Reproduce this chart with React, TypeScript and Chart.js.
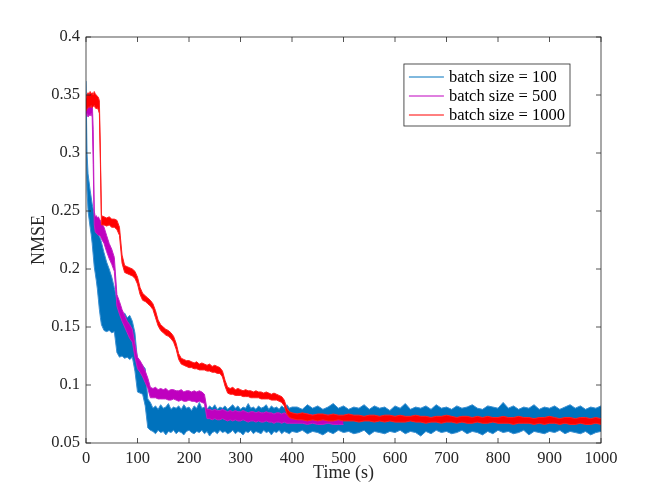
import React, { useEffect, useRef } from "react";
import { Chart, registerables } from "chart.js";
import type { ChartOptions, Plugin } from "chart.js";

Chart.register(...registerables);

// time grid (s), shared by every series
const timeS = [
  0, 2, 4, 6, 8, 10, 12, 14, 16, 18, 20, 22, 24, 26, 28, 30,
  35, 40, 45, 50, 55, 60, 65, 70, 75, 80, 85, 90, 95, 100, 105, 110, 115, 120, 125,
  130, 135, 140, 145, 150, 155, 160, 165, 170, 175, 180, 185, 190, 195, 200, 205, 210, 215, 220, 225,
  230, 235, 240, 245, 250, 255, 260, 265, 270, 275, 280, 285, 290, 295, 300, 305, 310, 315, 320, 325,
  330, 335, 340, 345, 350, 355, 360, 365, 370, 375, 380, 385, 390, 395, 400,
  410, 420, 430, 440, 450, 460, 470, 480, 490, 500, 510, 520, 530, 540, 550, 560, 570, 580, 590, 600,
  610, 620, 630, 640, 650, 660, 670, 680, 690, 700, 710, 720, 730, 740, 750, 760, 770, 780, 790, 800,
  810, 820, 830, 840, 850, 860, 870, 880, 890, 900, 910, 920, 930, 940, 950, 960, 970, 980, 990, 1000,
];

// batch size = 100 : upper / lower edge of the noisy band
const blueHi = [
  0.362, 0.300, 0.282, 0.275, 0.268, 0.262, 0.256, 0.252, 0.247, 0.242, 0.237, 0.232, 0.230, 0.228, 0.226, 0.223,
  0.214, 0.206, 0.200, 0.193, 0.184, 0.174, 0.164, 0.160, 0.162, 0.158, 0.160, 0.155, 0.145, 0.121, 0.119, 0.117, 0.114, 0.088, 0.085,
  0.080, 0.082, 0.079, 0.083, 0.080, 0.081, 0.084, 0.079, 0.081, 0.080,
  0.082, 0.079, 0.083, 0.080, 0.081, 0.078, 0.082, 0.080, 0.085, 0.080,
  0.081, 0.079, 0.082, 0.080, 0.083, 0.079, 0.081, 0.080, 0.082, 0.079,
  0.081, 0.083, 0.080, 0.082, 0.079, 0.081, 0.080, 0.084, 0.080, 0.081,
  0.079, 0.082, 0.080, 0.081, 0.083, 0.079, 0.082, 0.080, 0.081, 0.079,
  0.082, 0.080, 0.083, 0.080, 0.081,
  0.081, 0.079, 0.083, 0.080, 0.082, 0.079, 0.081, 0.084, 0.080, 0.082,
  0.079, 0.081, 0.080, 0.083, 0.079, 0.082, 0.080, 0.081, 0.078, 0.082,
  0.080, 0.084, 0.079, 0.081, 0.080, 0.082, 0.079, 0.083, 0.080, 0.081,
  0.079, 0.082, 0.080, 0.081, 0.083, 0.080, 0.079, 0.082, 0.081, 0.080,
  0.085, 0.080, 0.082, 0.079, 0.081, 0.080, 0.083, 0.079, 0.081, 0.080,
  0.082, 0.079, 0.081, 0.083, 0.080, 0.082, 0.079, 0.081, 0.080, 0.082,
];
const blueLo = [
  0.320, 0.268, 0.250, 0.243, 0.236, 0.230, 0.222, 0.212, 0.202, 0.196, 0.190, 0.183, 0.174, 0.165, 0.158, 0.152,
  0.147, 0.146, 0.147, 0.145, 0.146, 0.128, 0.124, 0.125, 0.123, 0.124, 0.122, 0.124, 0.112, 0.094, 0.093, 0.092, 0.082, 0.063, 0.061,
  0.060, 0.058, 0.061, 0.059, 0.060, 0.057, 0.060, 0.059, 0.061, 0.058,
  0.060, 0.059, 0.057, 0.060, 0.061, 0.059, 0.058, 0.060, 0.059, 0.061,
  0.058, 0.060, 0.056, 0.059, 0.060, 0.058, 0.061, 0.059, 0.060, 0.058,
  0.059, 0.061, 0.058, 0.060, 0.059, 0.057, 0.060, 0.059, 0.061, 0.058,
  0.060, 0.059, 0.058, 0.061, 0.059, 0.060, 0.057, 0.060, 0.059, 0.061,
  0.058, 0.060, 0.059, 0.058, 0.060,
  0.059, 0.061, 0.058, 0.060, 0.059, 0.057, 0.060, 0.058, 0.061, 0.059,
  0.060, 0.058, 0.059, 0.061, 0.057, 0.060, 0.059, 0.058, 0.060, 0.059,
  0.061, 0.058, 0.060, 0.059, 0.056, 0.060, 0.058, 0.061, 0.059, 0.060,
  0.058, 0.059, 0.061, 0.058, 0.060, 0.059, 0.057, 0.060, 0.058, 0.061,
  0.059, 0.060, 0.058, 0.059, 0.061, 0.057, 0.060, 0.059, 0.058, 0.060,
  0.059, 0.061, 0.058, 0.060, 0.059, 0.058, 0.060, 0.057, 0.059, 0.060,
];

// batch size = 500 (ends at 500 s)
const purpleHi = [
  0.349, 0.350, 0.349, 0.350, 0.348, 0.349, 0.346, 0.320, 0.250, 0.245, 0.246, 0.244, 0.245, 0.243, 0.242, 0.240,
  0.236, 0.229, 0.222, 0.217, 0.210, 0.178, 0.172, 0.165, 0.160, 0.155, 0.152, 0.148, 0.135, 0.124, 0.121, 0.117, 0.112, 0.106, 0.098,
  0.097, 0.098, 0.096, 0.097, 0.096, 0.097, 0.095, 0.096, 0.096, 0.095,
  0.095, 0.096, 0.094, 0.095, 0.095, 0.094, 0.095, 0.094, 0.095, 0.094,
  0.092, 0.079, 0.079, 0.078, 0.079, 0.078, 0.078, 0.079, 0.078, 0.077,
  0.078, 0.077, 0.078, 0.077, 0.077, 0.078, 0.077, 0.076, 0.077, 0.077,
  0.076, 0.077, 0.076, 0.076, 0.077, 0.076, 0.076, 0.075, 0.076, 0.076,
  0.075, 0.076, 0.075, 0.075, 0.075,
  0.075, 0.074, 0.075, 0.074, 0.074, 0.073, 0.074, 0.073, 0.073, 0.072,
];
const purpleLo = [
  0.332, 0.334, 0.331, 0.333, 0.332, 0.334, 0.331, 0.290, 0.238, 0.232, 0.231, 0.230, 0.229, 0.229, 0.228, 0.226,
  0.222, 0.215, 0.209, 0.204, 0.198, 0.168, 0.161, 0.155, 0.150, 0.145, 0.140, 0.137, 0.124, 0.114, 0.111, 0.107, 0.102, 0.097, 0.089,
  0.089, 0.089, 0.088, 0.088, 0.088, 0.088, 0.087, 0.087, 0.088, 0.087,
  0.086, 0.087, 0.086, 0.086, 0.087, 0.086, 0.086, 0.085, 0.086, 0.085,
  0.084, 0.071, 0.071, 0.070, 0.071, 0.070, 0.070, 0.071, 0.070, 0.069,
  0.070, 0.069, 0.070, 0.069, 0.069, 0.070, 0.069, 0.068, 0.069, 0.069,
  0.068, 0.069, 0.068, 0.068, 0.069, 0.068, 0.068, 0.067, 0.068, 0.068,
  0.067, 0.068, 0.067, 0.067, 0.067,
  0.067, 0.067, 0.066, 0.067, 0.066, 0.066, 0.067, 0.066, 0.066, 0.066,
];

// batch size = 1000
const redHi = [
  0.347, 0.350, 0.352, 0.350, 0.353, 0.351, 0.352, 0.350, 0.353, 0.351, 0.350, 0.349, 0.348, 0.345, 0.300, 0.246,
  0.245, 0.244, 0.245, 0.243, 0.243, 0.242, 0.236, 0.212, 0.203, 0.202, 0.201, 0.200, 0.198, 0.193, 0.184, 0.179, 0.177, 0.175, 0.173,
  0.170, 0.164, 0.156, 0.152, 0.150, 0.148, 0.147, 0.145, 0.142, 0.136,
  0.127, 0.123, 0.122, 0.121, 0.121, 0.120, 0.119, 0.120, 0.118, 0.119,
  0.118, 0.117, 0.118, 0.116, 0.117, 0.116, 0.115, 0.112, 0.104, 0.098,
  0.097, 0.098, 0.096, 0.097, 0.096, 0.095, 0.096, 0.095, 0.095, 0.094,
  0.095, 0.094, 0.094, 0.093, 0.094, 0.093, 0.092, 0.093, 0.092, 0.091,
  0.090, 0.087, 0.080, 0.077, 0.076,
  0.075, 0.076, 0.075, 0.074, 0.075, 0.075, 0.074, 0.075, 0.074, 0.074,
  0.075, 0.074, 0.074, 0.073, 0.074, 0.074, 0.073, 0.074, 0.074, 0.073,
  0.074, 0.073, 0.073, 0.074, 0.073, 0.073, 0.072, 0.073, 0.073, 0.074,
  0.073, 0.072, 0.073, 0.073, 0.072, 0.073, 0.072, 0.073, 0.072, 0.072,
  0.073, 0.072, 0.072, 0.073, 0.072, 0.072, 0.071, 0.072, 0.072, 0.073,
  0.072, 0.071, 0.072, 0.072, 0.071, 0.072, 0.072, 0.071, 0.072, 0.071,
];
const redLo = [
  0.336, 0.338, 0.339, 0.340, 0.339, 0.341, 0.339, 0.340, 0.341, 0.339, 0.338, 0.339, 0.337, 0.334, 0.290, 0.238,
  0.238, 0.237, 0.238, 0.236, 0.236, 0.234, 0.229, 0.205, 0.197, 0.196, 0.195, 0.194, 0.192, 0.187, 0.178, 0.173, 0.172, 0.170, 0.168,
  0.165, 0.158, 0.151, 0.147, 0.145, 0.143, 0.142, 0.140, 0.137, 0.131,
  0.122, 0.118, 0.117, 0.116, 0.115, 0.115, 0.114, 0.114, 0.113, 0.113,
  0.113, 0.112, 0.112, 0.111, 0.111, 0.110, 0.110, 0.107, 0.099, 0.093,
  0.092, 0.092, 0.091, 0.091, 0.091, 0.090, 0.090, 0.090, 0.089, 0.089,
  0.089, 0.089, 0.088, 0.088, 0.088, 0.088, 0.087, 0.087, 0.087, 0.086,
  0.085, 0.082, 0.075, 0.072, 0.071,
  0.070, 0.070, 0.069, 0.070, 0.069, 0.070, 0.069, 0.069, 0.070, 0.069,
  0.069, 0.069, 0.068, 0.069, 0.069, 0.068, 0.069, 0.068, 0.069, 0.068,
  0.068, 0.068, 0.069, 0.068, 0.068, 0.067, 0.068, 0.068, 0.067, 0.068,
  0.068, 0.067, 0.068, 0.067, 0.067, 0.068, 0.067, 0.067, 0.068, 0.067,
  0.067, 0.067, 0.066, 0.067, 0.067, 0.067, 0.066, 0.067, 0.066, 0.067,
  0.067, 0.066, 0.067, 0.066, 0.066, 0.067, 0.066, 0.066, 0.067, 0.066,
];

const seriesNames = ["batch size = 100", "batch size = 500", "batch size = 1000"];
const seriesColors = ["#0072BD", "#BF00BF", "#FF0000"];
const edgeColors = ["#3a8fd1", "#c41fc4", "#ff2020"];

const FONT = "'Liberation Serif', 'Times New Roman', serif";
const AXIS_COLOR = "#262626";

const toPoints = (ys: number[]) => ys.map((y, i) => ({ x: timeS[i], y }));

// MATLAB-like box, inward ticks on all four sides, and the legend inside the axes
const matlabAxesPlugin: Plugin<"line"> = {
  id: "matlabAxes",
  afterDraw: (chart) => {
    const { ctx, chartArea: a } = chart;
    const xs = chart.scales.x;
    const ys = chart.scales.y;
    ctx.save();
    ctx.strokeStyle = AXIS_COLOR;
    ctx.lineWidth = 0.8;
    ctx.strokeRect(a.left, a.top, a.right - a.left, a.bottom - a.top);
    const tl = 5;
    ctx.beginPath();
    xs.ticks.forEach((t) => {
      const px = xs.getPixelForValue(t.value);
      ctx.moveTo(px, a.bottom);
      ctx.lineTo(px, a.bottom - tl);
      ctx.moveTo(px, a.top);
      ctx.lineTo(px, a.top + tl);
    });
    ys.ticks.forEach((t) => {
      const py = ys.getPixelForValue(t.value);
      ctx.moveTo(a.left, py);
      ctx.lineTo(a.left + tl, py);
      ctx.moveTo(a.right, py);
      ctx.lineTo(a.right - tl, py);
    });
    ctx.stroke();

    // legend
    ctx.font = `16.5px ${FONT}`;
    const textW = Math.max(...seriesNames.map((s) => ctx.measureText(s).width));
    const lineLen = 35;
    const pad = 5;
    const rowH = 19;
    const boxW = pad + lineLen + pad + textW + pad;
    const boxH = rowH * seriesNames.length + 5;
    const bx = a.right - 31 - boxW;
    const by = a.top + 27;
    ctx.fillStyle = "#ffffff";
    ctx.fillRect(bx, by, boxW, boxH);
    ctx.strokeStyle = AXIS_COLOR;
    ctx.lineWidth = 0.8;
    ctx.strokeRect(bx, by, boxW, boxH);
    ctx.textBaseline = "middle";
    ctx.textAlign = "left";
    seriesNames.forEach((name, i) => {
      const cy = by + 13 + i * rowH;
      ctx.strokeStyle = seriesColors[i];
      ctx.lineWidth = 1;
      ctx.beginPath();
      ctx.moveTo(bx + pad, cy);
      ctx.lineTo(bx + pad + lineLen, cy);
      ctx.stroke();
      ctx.fillStyle = "#000000";
      ctx.fillText(name, bx + pad + lineLen + pad, cy + 1);
    });
    ctx.restore();
  },
};

const App: React.FC = () => {
  const canvasRef = useRef<HTMLCanvasElement | null>(null);
  const chartRef = useRef<Chart | null>(null);

  useEffect(() => {
    document.body.style.margin = "0";
    const canvas = canvasRef.current;
    if (!canvas) return;
    const ctx = canvas.getContext("2d");
    if (!ctx) return;

    if (chartRef.current) {
      chartRef.current.destroy();
      chartRef.current = null;
    }

    Chart.defaults.font.family = FONT;
    Chart.defaults.color = AXIS_COLOR;

    const band = (hi: number[], lo: number[], idx: number, order: number) => [
      {
        label: `${seriesNames[idx]} hi`,
        data: toPoints(hi),
        borderColor: edgeColors[idx],
        borderWidth: 1,
        fill: false,
        order,
      },
      {
        label: `${seriesNames[idx]} lo`,
        data: toPoints(lo),
        borderColor: edgeColors[idx],
        borderWidth: 1,
        backgroundColor: seriesColors[idx],
        fill: "-1",
        order,
      },
    ];

    const options: ChartOptions<"line"> = {
      responsive: false,
      animation: false,
      layout: { padding: { top: 37, right: 63, bottom: 0, left: 0 } },
      elements: { point: { radius: 0 }, line: { tension: 0 } },
      plugins: { legend: { display: false }, tooltip: { enabled: false } },
      scales: {
        x: {
          type: "linear",
          min: 0,
          max: 1000,
          grid: { display: false, drawTicks: false },
          border: { display: false },
          ticks: {
            stepSize: 100,
            padding: 6,
            color: AXIS_COLOR,
            font: { size: 16.5, family: FONT },
            maxRotation: 0,
            callback: (v) => String(v),
          },
          title: {
            display: true,
            text: "Time (s)",
            color: AXIS_COLOR,
            font: { size: 18, family: FONT },
            padding: { top: 0, bottom: 14 },
          },
          afterFit: (scale) => {
            scale.height = 55;
          },
        },
        y: {
          type: "linear",
          min: 0.05,
          max: 0.4,
          grid: { display: false, drawTicks: false },
          border: { display: false },
          ticks: {
            stepSize: 0.05,
            padding: 6,
            color: AXIS_COLOR,
            font: { size: 16.5, family: FONT },
            callback: (v) => String(Number(Number(v).toFixed(2))),
          },
          title: {
            display: true,
            text: "NMSE",
            color: AXIS_COLOR,
            font: { size: 18, family: FONT },
            padding: { top: 28, bottom: 0 },
          },
          afterFit: (scale) => {
            scale.width = 86;
          },
        },
      },
    };

    chartRef.current = new Chart(ctx, {
      type: "line",
      data: {
        datasets: [
          ...band(blueHi, blueLo, 0, 3),
          ...band(purpleHi, purpleLo, 1, 2),
          ...band(redHi, redLo, 2, 1),
        ] as any,
      },
      options,
      plugins: [matlabAxesPlugin],
    });

    return () => {
      if (chartRef.current) {
        chartRef.current.destroy();
        chartRef.current = null;
      }
    };
  }, []);

  return <canvas ref={canvasRef} width={664} height={498} style={{ display: "block" }} />;
};

export default App;
